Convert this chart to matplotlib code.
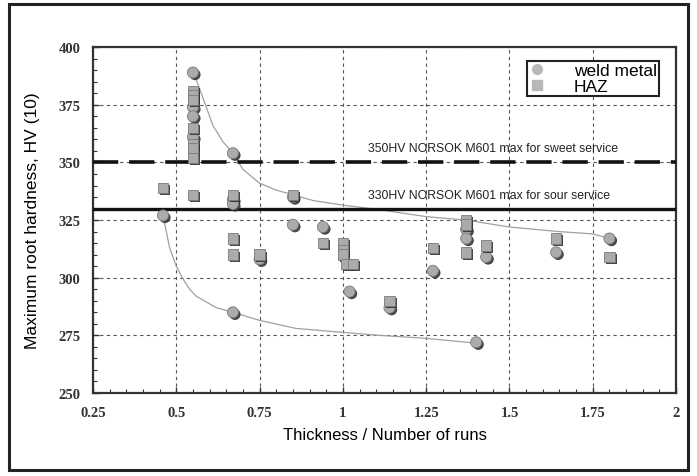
import matplotlib.pyplot as plt
import matplotlib.patheffects as pe
from matplotlib.patches import Rectangle
from matplotlib.ticker import MultipleLocator

# weld metal (circles)
weld_x = [0.55, 0.55, 0.55, 0.55, 0.67, 0.67, 0.67, 0.67, 0.46, 0.75, 0.85, 0.85,
          0.94, 1.02, 1.14, 1.27, 1.37, 1.37, 1.43, 1.64, 1.80, 1.40]
weld_y = [389, 374, 370, 361, 354, 334, 332, 285, 327, 308, 335, 323,
          322, 294, 287, 303, 321, 317, 309, 311, 317, 272]

# HAZ (squares)
haz_x = [0.55, 0.55, 0.55, 0.55, 0.55, 0.55, 0.55, 0.55, 0.46, 0.67, 0.67, 0.67,
         0.75, 0.85, 0.94, 1.00, 1.00, 1.00, 1.01, 1.03, 1.14, 1.27, 1.37, 1.37,
         1.37, 1.43, 1.64, 1.80]
haz_y = [381, 379, 377, 365, 358, 356, 352, 336, 339, 336, 317, 310,
         310, 336, 315, 315, 312, 310, 306, 306, 290, 313, 325, 323,
         311, 314, 317, 309]

# trend curves
upper_x = [0.55, 0.565, 0.58, 0.61, 0.64, 0.67, 0.70, 0.75, 0.80, 0.85, 0.91, 1.0,
           1.11, 1.25, 1.37, 1.5, 1.65, 1.75, 1.8]
upper_y = [389, 384, 378, 366, 359, 354, 347, 341, 338, 336, 333.5, 331.5,
           329.5, 326.5, 325, 322, 320, 319, 317]
lower_x = [0.46, 0.47, 0.48, 0.50, 0.52, 0.54, 0.56, 0.59, 0.62, 0.67, 0.75, 0.86,
           1.0, 1.11, 1.25, 1.4]
lower_y = [327, 320, 313, 305, 299.5, 295, 292, 289.5, 287, 285, 281.5, 278,
           276.3, 275, 273.7, 271.6]

sweet_limit = 350
sour_limit = 330

fig = plt.figure(figsize=(6.97, 4.77), dpi=100)
ax = fig.add_axes([0.1334, 0.174, 0.8366, 0.725])

# outer border
fig.patches.append(Rectangle((0.013, 0.012), 0.974, 0.977, transform=fig.transFigure,
                             fill=False, edgecolor='#222222', linewidth=2.2))

ax.plot(upper_x, upper_y, color='#a0a0a0', lw=0.9, zorder=2)
ax.plot(lower_x, lower_y, color='#a0a0a0', lw=0.9, zorder=2)

ax.axhline(sweet_limit, color='#111111', lw=2.6, dashes=(7, 3), zorder=3)
ax.axhline(sour_limit, color='#111111', lw=2.4, zorder=3)

shadow = [pe.SimplePatchShadow(offset=(1.5, -1.5), shadow_rgbFace='#333333', alpha=0.9), pe.Normal()]
ax.plot(weld_x, weld_y, 'o', ms=8, mfc='#ababab', mec='#7a7a7a', mew=0.6,
        path_effects=shadow, zorder=4)
ax.plot(haz_x, haz_y, 's', ms=7.5, mfc='#ababab', mec='#7a7a7a', mew=0.6,
        path_effects=shadow, zorder=4)

ax.text(1.45, 353.5, '350HV NORSOK M601 max for sweet service', fontsize=8.8,
        family='Liberation Sans', ha='center', va='bottom', color='#222222')
ax.text(1.44, 333.3, '330HV NORSOK M601 max for sour service', fontsize=8.8,
        family='Liberation Sans', ha='center', va='bottom', color='#222222')

ax.set_xlim(0.25, 2)
ax.set_ylim(250, 400)
ax.xaxis.set_major_locator(MultipleLocator(0.25))
ax.xaxis.set_minor_locator(MultipleLocator(0.05))
ax.yaxis.set_major_locator(MultipleLocator(25))
ax.yaxis.set_minor_locator(MultipleLocator(5))
ax.set_xticks([0.25, 0.5, 0.75, 1, 1.25, 1.5, 1.75, 2])
ax.set_xticklabels(['0.25', '0.5', '0.75', '1', '1.25', '1.5', '1.75', '2'])
ax.tick_params(which='both', direction='in', color='#333333')
ax.tick_params(which='major', length=4, width=1, pad=9)
ax.tick_params(which='minor', length=3, width=0.8)
for lab in ax.get_xticklabels() + ax.get_yticklabels():
    lab.set_family('Liberation Serif')
    lab.set_fontweight('bold')
    lab.set_fontsize(10.5)
    lab.set_color('#333333')

ax.grid(True, which='major', color='#555555', lw=0.8, dashes=(3, 3))
for s in ax.spines.values():
    s.set_color('#333333')
    s.set_linewidth(1.6)

ax.set_xlabel('Thickness / Number of runs', fontsize=12, family='Liberation Sans', labelpad=6)
ax.set_ylabel('Maximum root hardness, HV (10)', fontsize=12.5, family='Liberation Sans', labelpad=13)

# legend with plain, lighter markers
h1, = ax.plot([], [], 'o', ms=7, mfc='#b8b8b8', mec='#b8b8b8')
h2, = ax.plot([], [], 's', ms=6.5, mfc='#b8b8b8', mec='#b8b8b8')
leg = ax.legend([h1, h2], ['weld metal', 'HAZ'], loc='upper right',
                bbox_to_anchor=(0.97, 0.96),
                prop={'family': 'Liberation Sans', 'size': 12.5}, handletextpad=1.6,
                borderpad=0.1, labelspacing=0.05, fancybox=False, edgecolor='#222222',
                framealpha=1, handlelength=1.0, borderaxespad=0)
leg.get_frame().set_linewidth(1.5)

fig.savefig('out.png', dpi=100)
